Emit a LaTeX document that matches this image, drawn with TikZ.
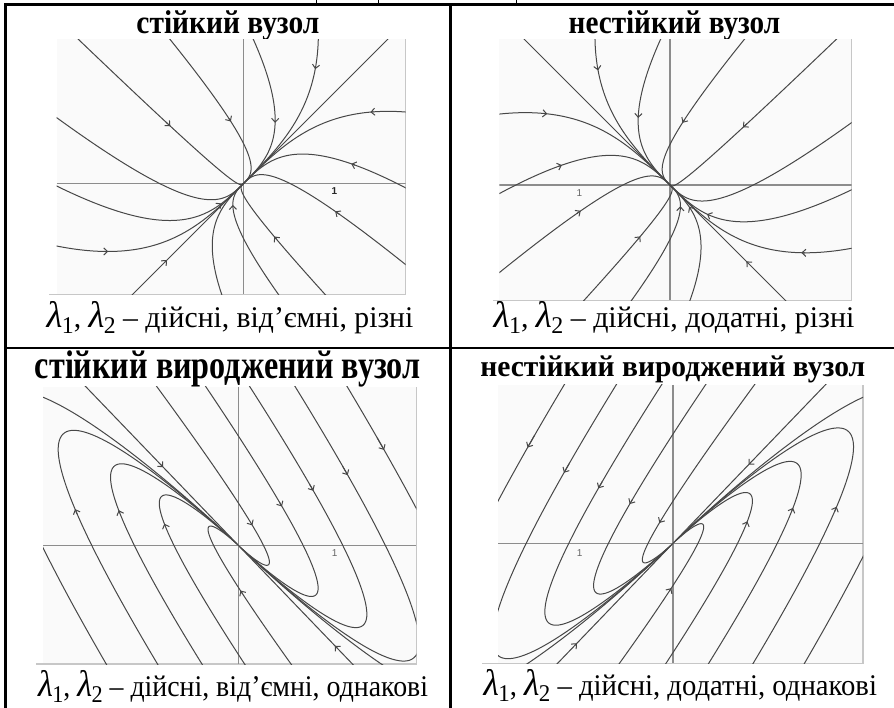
\documentclass[tikz,border=0pt]{standalone}
\usepackage{fontspec}
\setmainfont{Liberation Serif}
\newfontfamily\lsans{Liberation Sans}
\usetikzlibrary{arrows.meta}
\newcommand\lam[1]{{\fontsize{37}{37}\selectfont\textit{λ}}\kern-0.02em\raisebox{-6pt}{\fontsize{24}{24}\selectfont #1}}
\newcommand\fitw[2]{\resizebox{#1}{\height}{#2}}
% node (panels 1,2): P(s) = A s v1 + B s^3 v2
\newcommand\ndc[2]{\draw[trj] plot[domain=0:1.1, samples=50, smooth, variable=\vv] ({\ex*((#1)*\vv+(#2)*\vv*\vv*\vv)},{(#1)*\vv-(#2)*\vv*\vv*\vv});}
\newcommand\nda[3]{\pgfmathsetmacro\sa{#3+0.015}\pgfmathsetmacro\sb{#3}%
  \draw[trj,arw] ({\ex*((#1)*\sa+(#2)*\sa*\sa*\sa)},{(#1)*\sa-(#2)*\sa*\sa*\sa}) -- ({\ex*((#1)*\sb+(#2)*\sb*\sb*\sb)},{(#1)*\sb-(#2)*\sb*\sb*\sb});}
% degenerate node (panels 3,4): alpha*e^u (W - u V)
\newcommand\dgc[2]{\draw[trj] plot[domain=-6:#2, samples=140, smooth, variable=\vv] ({\ex*(#1)*exp(\vv)*(0.24-0.75*\vv)},{(#1)*exp(\vv)*(0.13+0.78*\vv)});}
\newcommand\dga[2]{\pgfmathsetmacro\ua{#2+0.02}\pgfmathsetmacro\ub{#2}%
  \draw[trj,arw] ({\ex*(#1)*exp(\ua)*(0.24-0.75*\ua)},{(#1)*exp(\ua)*(0.13+0.78*\ua)}) -- ({\ex*(#1)*exp(\ub)*(0.24-0.75*\ub)},{(#1)*exp(\ub)*(0.13+0.78*\ub)});}
\tikzset{
  tbl/.style={line width=2.2pt, line cap=rect},
  frm/.style={draw=black!22, line width=1.4pt},
  ax/.style={draw=black!45, line width=1.1pt},
  trj/.style={draw=black!72, line width=1pt},
  arw/.style={-{Straight Barb[length=3.8pt,width=7.2pt,line width=1pt]}},
  ttl/.style={anchor=base, inner sep=0pt},
  captxt/.style={anchor=base, inner sep=0pt},
  ticklbl/.style={font=\lsans\fontsize{10}{10}\selectfont, text=black!60, inner sep=0pt},
  frag/.style={line width=1.3pt},
}
\newcommand\nodeset{%
  \ndc{-0.113}{-1.7}\nda{-0.113}{-1.7}{0.75}
  \ndc{0.3905}{-1.1965}
  \ndc{0.8485}{-0.7385}
  \ndc{1.2055}{-0.3815}
  \ndc{1.284}{0.496}
  \ndc{0.868}{0.912}
  \ndc{0.447}{1.333}
  \ndc{-0.7265}{0.4885}
  \ndc{-0.415}{0.80}
  \ndc{-0.159}{1.056}
  \ndc{-0.6625}{-1.3875}
  \ndc{-1.038}{-1.012}
  \ndc{-1.3675}{-0.6825}
  \ndc{1.7}{0}
  \ndc{-1.4}{0}
}
\newcommand\degset{%
  \dgc{0.85}{1.51}\dgc{2.2}{0.86}\dgc{3.55}{0.61}\dgc{5.0}{0.47}\dgc{6.7}{0.37}
  \dgc{-0.85}{1.51}\dgc{-2.2}{0.86}\dgc{-3.55}{0.61}\dgc{-5.0}{0.47}\dgc{-6.7}{0.37}
  \draw[trj] ({\ex*(-1.9)},1.976) -- ({\ex*1.9},-1.976);
  \dga{0.85}{0.12}\dga{2.2}{0.06}\dga{3.55}{0.035}\dga{5.0}{0.02}\dga{6.7}{0.022}
  \dga{-0.85}{0.34}\dga{-2.2}{-0.36}\dga{-3.55}{-0.36}\dga{-5.0}{-0.3}
  \draw[trj,arw] ({\ex*(-0.8175)},0.850) -- ({\ex*(-0.795)},0.827);
  \draw[trj,arw] ({\ex*1.035},-1.076) -- ({\ex*1.0125},-1.053);
}
\begin{document}
\begin{tikzpicture}[x=1pt,y=-1pt]
\useasboundingbox (0,0) rectangle (894,708);
\fill[white] (0,0) rectangle (894,708);

% cut-off descender feet of the line above the table
\foreach \fx in {316.7,378.3,516.7}{
  \draw[frag] (\fx,0) -- (\fx,3.4);
  \draw[line width=0.9pt] (\fx-3.6,3.2) -- (\fx+3.6,3.2);
}

% table
\draw[tbl] (5.5,4.5) -- (894,4.5);
\draw[tbl] (5.5,4.5) -- (5.5,708);
\draw[tbl] (450.5,4.5) -- (450.5,708);
\draw[tbl] (5.5,348.3) -- (894,348.3);

% titles
\node[ttl] (t1) at (228,33.3) {\fitw{183pt}{\fontsize{33}{40}\selectfont\bfseries стійкий вузол}};
\node[ttl] (t2) at (674.5,33.3) {\fitw{211.6pt}{\fontsize{33}{40}\selectfont\bfseries нестійкий вузол}};
\node[ttl] (t3) at (227.8,378) {\fitw{385.7pt}{\fontsize{40}{48}\selectfont\bfseries стійкий вироджений вузол}};
\node[ttl] (t4) at (672.8,376.7) {\fitw{385pt}{\fontsize{30}{36}\selectfont\bfseries нестійкий вироджений вузол}};

% captions
\node[captxt] (c1) at (230,327.5) {\fitw{366.7pt}{\fontsize{30}{36}\selectfont\lam{1}, \lam{2} – дійсні, від’ємні, різні}};
\node[captxt] (c2) at (674,327.5) {\fitw{360.7pt}{\fontsize{30}{36}\selectfont\lam{1}, \lam{2} – дійсні, додатні, різні}};
\node[captxt] (c3) at (233,696.5) {\fitw{390pt}{\fontsize{30}{36}\selectfont\lam{1}, \lam{2} – дійсні, від’ємні, однакові}};
\node[captxt] (c4) at (680.3,695.5) {\fitw{393.3pt}{\fontsize{30}{36}\selectfont\lam{1}, \lam{2} – дійсні, додатні, однакові}};

% ---------- panel 1: stable node
\begin{scope}
  \fill[black!2] (56.7,39.3) rectangle (405.7,294.3);
  \draw[frm] (49,294.3) -- (405.7,294.3) -- (405.7,39.3);
  \clip (56.7,39.3) rectangle (405.7,294.3);
  \draw[ax] (56.7,183.7) -- (405.7,183.7);
  \draw[ax] (243.3,39.3) -- (243.3,294.3);
  \begin{scope}[shift={(243.3,183.7)}, x=91pt, y=91pt]
    \def\ex{1}
    \nodeset
    \nda{0.3905}{-1.1965}{0.7}\nda{0.8485}{-0.7385}{0.6}\nda{1.2055}{-0.3815}{0.85}
    \nda{1.284}{0.496}{0.85}\nda{0.868}{0.912}{0.81}\nda{0.447}{1.333}{0.79}
    \nda{-0.415}{0.80}{0.42}\nda{-0.159}{1.056}{0.758}\nda{-1.038}{-1.012}{0.22}
    \nda{-1.3675}{-0.6825}{0.815}\nda{-1.4}{0}{0.6}
  \end{scope}
\end{scope}
\node[ticklbl, text=black!85, font=\lsans\bfseries\fontsize{10}{10}\selectfont] (n1) at (334.3,191) {1};

% ---------- panel 2: unstable node
\begin{scope}
  \fill[black!2] (499.3,39.3) rectangle (851.7,300.3);
  \draw[frm] (493,300.3) -- (851.7,300.3) -- (851.7,39.3);
  \clip (499.3,39.3) rectangle (851.7,300.3);
  \draw[ax] (499.3,185) -- (851.7,185);
  \draw[ax] (670,39.3) -- (670,300.3);
  \begin{scope}[shift={(670,185)}, x=91pt, y=91pt]
    \def\ex{-1}
    \nodeset
    \nda{1.284}{0.496}{0.83}\nda{1.2055}{-0.3815}{0.85}\nda{0.8485}{-0.7385}{0.64}
    \nda{0.3905}{-1.1965}{0.7}\nda{0.868}{0.912}{0.81}\nda{0.447}{1.333}{0.78}
    \nda{-0.159}{1.056}{0.75}\nda{-0.415}{0.80}{0.42}\nda{-0.7265}{0.4885}{0.31}
    \nda{-1.038}{-1.012}{0.35}\nda{-1.3675}{-0.6825}{0.8}\nda{-1.4}{0}{0.6}
  \end{scope}
\end{scope}
\node[ticklbl] (n2) at (579.3,192.7) {1};

% ---------- panel 3: stable degenerate node
\begin{scope}
  \fill[black!2] (43,387) rectangle (416.3,664);
  \draw[frm] (36,664) -- (416.3,664) -- (416.3,387);
  \clip (43,387) rectangle (416.3,664);
  \draw[ax] (43,545.7) -- (416.3,545.7);
  \draw[ax] (238.7,387) -- (238.7,664);
  \begin{scope}[shift={(238.7,545.7)}, x=95pt, y=95pt]
    \def\ex{1}
    \degset
  \end{scope}
\end{scope}
\node[ticklbl] (n3) at (334.7,553.3) {1};

% ---------- panel 4: unstable degenerate node
\begin{scope}
  \fill[black!2] (498,385) rectangle (863,663.3);
  \draw[frm] (482,663.3) -- (863,663.3) -- (863,385);
  \clip (498,385) rectangle (863,663.3);
  \draw[ax] (498,543.3) -- (863,543.3);
  \draw[ax] (673,385) -- (673,663.3);
  \begin{scope}[shift={(673,543.3)}, x=95pt, y=95pt]
    \def\ex{-1}
    \degset
  \end{scope}
\end{scope}
\node[ticklbl] (n4) at (579.7,553.3) {1};
\end{tikzpicture}
\end{document}
